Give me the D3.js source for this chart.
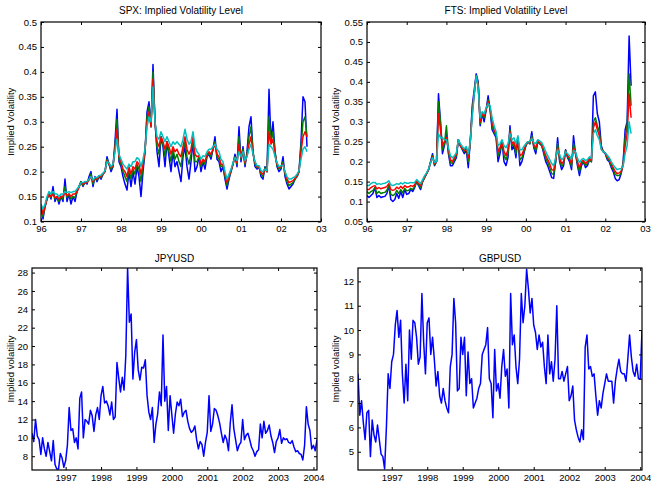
<!DOCTYPE html>
<html lang="en">
<head>
<meta charset="UTF-8">
<title>Implied volatility levels</title>
<script src="https://d3js.org/d3.v7.min.js"></script>
<style>
    body {
        margin: 0;
        background: #fff;
    }
    #chart {
        display: block;
        font-family: Arial, "Liberation Sans", Helvetica, sans-serif;
    }
    .title { font-size: 10px; fill: #000; }
    .ylabel { font-size: 9.5px; fill: #000; }
</style>
</head>
<body>
<svg id="chart" width="651" height="482"></svg>
<script>
    // sampling: one value every 0.05 year, starting at the given decimal year
    const step = 0.05;

    // ---- SPX implied volatility (4 maturities), from 1996.00 ----
    const spxStart = 1996.0;
    const spxBlue = [
        0.13,0.105,0.13,0.145,0.155,0.145,0.17,0.14,0.15,0.135,0.15,0.14,0.185,0.14,0.155,0.135,0.15,0.14,0.16,0.17,
        0.18,0.17,0.18,0.175,0.19,0.2,0.17,0.19,0.18,0.19,0.185,0.195,0.2,0.23,0.215,0.2,0.21,0.26,0.325,0.22,
        0.21,0.19,0.175,0.163,0.2,0.17,0.2,0.175,0.21,0.19,0.15,0.2,0.24,0.32,0.34,0.29,0.415,0.3,0.24,0.21,
        0.27,0.25,0.21,0.26,0.23,0.2,0.24,0.21,0.22,0.2,0.18,0.23,0.25,0.21,0.185,0.22,0.26,0.2,0.21,0.23,
        0.2,0.22,0.205,0.23,0.235,0.225,0.245,0.27,0.225,0.22,0.2,0.21,0.185,0.165,0.185,0.2,0.215,0.235,0.21,0.29,
        0.22,0.25,0.21,0.24,0.29,0.31,0.24,0.21,0.205,0.21,0.19,0.185,0.21,0.2,0.365,0.26,0.3,0.24,0.21,0.2,
        0.205,0.23,0.19,0.175,0.165,0.17,0.175,0.185,0.19,0.2,0.26,0.35,0.34,0.25
    ];
    const spxGreen = [
        0.13,0.11,0.13,0.145,0.155,0.148,0.16,0.145,0.15,0.14,0.15,0.145,0.17,0.148,0.155,0.145,0.15,0.148,0.16,0.17,
        0.18,0.172,0.178,0.178,0.185,0.195,0.175,0.188,0.183,0.19,0.188,0.195,0.2,0.225,0.215,0.205,0.21,0.25,0.305,0.225,
        0.215,0.2,0.19,0.18,0.205,0.185,0.205,0.195,0.215,0.205,0.18,0.21,0.24,0.31,0.33,0.29,0.4,0.3,0.25,0.235,
        0.27,0.255,0.23,0.26,0.24,0.22,0.245,0.225,0.235,0.22,0.21,0.24,0.26,0.23,0.215,0.235,0.265,0.22,0.22,0.23,
        0.21,0.222,0.215,0.232,0.237,0.23,0.245,0.26,0.23,0.225,0.21,0.212,0.19,0.172,0.188,0.2,0.215,0.23,0.215,0.27,
        0.225,0.245,0.215,0.235,0.27,0.29,0.24,0.215,0.208,0.21,0.195,0.19,0.208,0.2,0.31,0.26,0.28,0.24,0.212,0.205,
        0.208,0.22,0.195,0.18,0.172,0.175,0.178,0.185,0.19,0.2,0.25,0.3,0.31,0.27
    ];
    const spxRed = [
        0.13,0.115,0.13,0.145,0.155,0.15,0.155,0.148,0.15,0.145,0.15,0.15,0.16,0.152,0.155,0.15,0.155,0.155,0.16,0.168,
        0.178,0.175,0.178,0.178,0.183,0.19,0.18,0.187,0.185,0.19,0.19,0.195,0.2,0.222,0.215,0.208,0.212,0.245,0.285,0.23,
        0.22,0.205,0.2,0.19,0.21,0.195,0.21,0.205,0.22,0.215,0.195,0.215,0.24,0.3,0.32,0.29,0.385,0.3,0.26,0.25,
        0.27,0.26,0.245,0.26,0.25,0.235,0.25,0.24,0.245,0.235,0.23,0.25,0.27,0.245,0.235,0.245,0.27,0.235,0.23,0.232,
        0.215,0.225,0.22,0.235,0.24,0.235,0.245,0.255,0.235,0.23,0.215,0.215,0.195,0.178,0.19,0.202,0.215,0.228,0.218,0.255,
        0.228,0.24,0.218,0.232,0.255,0.27,0.235,0.218,0.21,0.21,0.198,0.195,0.205,0.2,0.28,0.255,0.265,0.235,0.215,0.208,
        0.21,0.215,0.198,0.185,0.178,0.18,0.182,0.187,0.192,0.2,0.24,0.27,0.28,0.27
    ];
    const spxCyan = [
        0.135,0.125,0.135,0.15,0.16,0.155,0.16,0.155,0.155,0.15,0.155,0.155,0.16,0.158,0.16,0.158,0.16,0.16,0.165,0.17,
        0.178,0.178,0.18,0.18,0.185,0.19,0.183,0.188,0.188,0.192,0.193,0.197,0.202,0.22,0.218,0.21,0.215,0.24,0.265,0.235,
        0.225,0.215,0.21,0.205,0.215,0.21,0.22,0.22,0.228,0.225,0.21,0.225,0.245,0.29,0.31,0.3,0.37,0.3,0.27,0.265,
        0.28,0.27,0.26,0.27,0.26,0.25,0.26,0.255,0.26,0.255,0.25,0.265,0.285,0.265,0.255,0.26,0.28,0.25,0.24,0.235,
        0.225,0.232,0.23,0.24,0.245,0.245,0.25,0.255,0.245,0.24,0.225,0.22,0.2,0.185,0.195,0.205,0.218,0.228,0.222,0.24,
        0.23,0.24,0.222,0.23,0.245,0.255,0.235,0.22,0.212,0.212,0.202,0.2,0.205,0.202,0.255,0.25,0.245,0.23,0.218,0.21,
        0.212,0.213,0.2,0.19,0.185,0.185,0.188,0.19,0.195,0.202,0.225,0.245,0.25,0.24
    ];

    // ---- FTS implied volatility (4 maturities), from 1996.00 ----
    const ftsStart = 1996.0;
    const ftsBlue = [
        0.115,0.11,0.115,0.12,0.135,0.11,0.115,0.11,0.112,0.113,0.12,0.14,0.105,0.1,0.105,0.12,0.108,0.125,0.11,0.13,
        0.118,0.12,0.13,0.125,0.135,0.15,0.14,0.13,0.15,0.16,0.17,0.18,0.2,0.22,0.19,0.2,0.37,0.3,0.22,0.24,
        0.27,0.22,0.19,0.19,0.2,0.21,0.255,0.24,0.23,0.22,0.23,0.185,0.25,0.34,0.38,0.42,0.4,0.29,0.32,0.3,
        0.33,0.365,0.33,0.28,0.27,0.26,0.2,0.22,0.25,0.2,0.19,0.21,0.29,0.23,0.24,0.21,0.26,0.19,0.2,0.22,
        0.24,0.25,0.245,0.275,0.235,0.22,0.25,0.245,0.24,0.22,0.2,0.19,0.175,0.16,0.158,0.2,0.26,0.2,0.18,0.19,
        0.23,0.21,0.2,0.18,0.265,0.22,0.19,0.165,0.19,0.2,0.185,0.19,0.205,0.2,0.365,0.375,0.32,0.3,0.24,0.225,
        0.22,0.205,0.2,0.185,0.175,0.158,0.152,0.155,0.17,0.2,0.28,0.3,0.515,0.39
    ];
    const ftsGreen = [
        0.125,0.12,0.125,0.128,0.135,0.12,0.125,0.12,0.122,0.123,0.128,0.14,0.118,0.115,0.118,0.128,0.12,0.13,0.122,0.133,
        0.127,0.128,0.133,0.13,0.138,0.15,0.142,0.135,0.15,0.16,0.17,0.18,0.198,0.215,0.192,0.2,0.35,0.3,0.23,0.245,
        0.29,0.225,0.198,0.195,0.205,0.215,0.255,0.24,0.232,0.225,0.232,0.2,0.25,0.33,0.37,0.415,0.395,0.295,0.32,0.31,
        0.33,0.355,0.33,0.29,0.275,0.265,0.215,0.23,0.25,0.215,0.205,0.22,0.28,0.24,0.245,0.22,0.26,0.205,0.21,0.225,
        0.24,0.25,0.245,0.265,0.238,0.228,0.25,0.245,0.24,0.225,0.208,0.198,0.185,0.17,0.168,0.2,0.245,0.205,0.188,0.195,
        0.228,0.212,0.205,0.188,0.245,0.22,0.195,0.175,0.195,0.2,0.19,0.195,0.205,0.2,0.3,0.31,0.29,0.275,0.235,0.225,
        0.222,0.208,0.203,0.19,0.18,0.168,0.165,0.165,0.172,0.195,0.26,0.29,0.42,0.34
    ];
    const ftsRed = [
        0.13,0.13,0.135,0.138,0.14,0.132,0.135,0.132,0.134,0.135,0.138,0.145,0.13,0.128,0.13,0.136,0.132,0.138,0.133,0.14,
        0.136,0.137,0.14,0.138,0.142,0.152,0.145,0.14,0.152,0.162,0.17,0.18,0.197,0.212,0.195,0.2,0.32,0.28,0.24,0.25,
        0.26,0.23,0.205,0.2,0.21,0.218,0.255,0.24,0.235,0.228,0.235,0.21,0.25,0.32,0.37,0.415,0.39,0.3,0.32,0.315,
        0.33,0.35,0.335,0.3,0.28,0.27,0.225,0.235,0.252,0.225,0.215,0.23,0.275,0.245,0.25,0.23,0.26,0.215,0.218,0.23,
        0.242,0.25,0.248,0.26,0.242,0.235,0.252,0.248,0.243,0.23,0.215,0.205,0.195,0.18,0.178,0.205,0.235,0.21,0.195,0.2,
        0.225,0.215,0.21,0.195,0.235,0.222,0.2,0.185,0.2,0.203,0.195,0.2,0.208,0.203,0.285,0.3,0.28,0.265,0.232,0.225,
        0.222,0.212,0.206,0.195,0.185,0.175,0.17,0.172,0.176,0.19,0.24,0.27,0.37,0.31
    ];
    const ftsCyan = [
        0.14,0.14,0.145,0.148,0.148,0.143,0.145,0.143,0.145,0.146,0.148,0.152,0.142,0.14,0.142,0.145,0.143,0.147,0.144,0.148,
        0.146,0.146,0.148,0.147,0.148,0.155,0.15,0.145,0.155,0.165,0.172,0.182,0.197,0.21,0.198,0.2,0.27,0.26,0.26,0.255,
        0.255,0.235,0.215,0.21,0.215,0.222,0.255,0.245,0.238,0.232,0.238,0.22,0.25,0.31,0.37,0.415,0.385,0.31,0.325,0.32,
        0.335,0.345,0.34,0.31,0.29,0.275,0.24,0.245,0.255,0.24,0.235,0.245,0.27,0.255,0.26,0.245,0.265,0.23,0.23,0.238,
        0.245,0.25,0.25,0.258,0.248,0.245,0.255,0.252,0.248,0.238,0.225,0.215,0.205,0.195,0.19,0.21,0.23,0.218,0.205,0.21,
        0.225,0.22,0.215,0.205,0.228,0.225,0.208,0.198,0.205,0.208,0.203,0.205,0.212,0.208,0.27,0.28,0.265,0.255,0.23,0.225,
        0.222,0.216,0.21,0.2,0.192,0.185,0.18,0.182,0.182,0.19,0.22,0.24,0.3,0.27
    ];

    // ---- JPYUSD implied volatility, from 1996.05 ----
    const jpyStart = 1996.05;
    const jpyVol = [
        10.5,9.6,12,10.2,9.8,8.2,10,8.8,8,9.5,8.5,7.5,9.7,7.1,6.6,6.6,8.3,7.8,6.8,
        7.5,9.2,13.3,10.8,11,9.5,10,8.8,14.3,15,10,12,11.8,11.5,13,12.4,10.7,12.5,13.3,12,
        14.6,15.6,13.8,14,13.5,12.5,13.9,12,12.3,18.2,16.5,15,16.6,15.2,19,28.5,22.6,23.5,16.4,19.3,
        20.7,17.4,16.3,17.7,17.6,18.5,14.6,12.8,12,13.3,9.5,11.5,12.6,15,13.5,21.2,14,15.6,10.8,14.6,
        12.5,10.5,12.6,13.9,13.5,14.2,12.3,12.8,13,11.8,11,10.6,10.8,11.3,9.8,8.8,9.6,9.3,8,9.5,
        10.6,14.6,10.7,11.5,13.2,13,12.4,11.6,10.5,9.5,10.3,9.8,8.6,11.6,13.6,11,9.8,8.6,9.2,9.5,
        12,9.8,10.3,10.5,9.8,9,8.6,8,8.5,8.7,11.5,10,11.8,10.5,10.8,11.4,10.2,9.5,8.4,9.6,
        10,10.9,9.4,10,9.8,9.9,9.5,9.4,9.7,9,8.5,8.6,8.3,8.2,7.6,9.2,13.4,11.5,10.8,8.8,
        9.2,8.6,9.8
    ];

    // ---- GBPUSD implied volatility, from 1996.05 ----
    const gbpStart = 1996.05;
    const gbpVol = [
        8.2,6.5,7.1,6.2,5.5,6.6,6.7,4.8,6.3,5.7,5.4,6.1,5.5,4.9,4.8,4.3,6,8.2,7.6,
        8.7,9,10.2,10.8,9.7,10.4,8.2,7,8.6,7.1,10,8.8,10.4,10.3,9.7,8.6,8.9,11.5,9.5,8.2,
        10.3,10.5,9,9.7,8.8,7.7,8.3,7.3,7,7.6,7.1,6.8,6.6,8.5,9,11.3,10.3,7.5,7.6,9.7,
        9,9.7,7.3,9.1,7.8,8,6.8,7,7.2,7.6,7.8,9,9.2,9.4,10.1,8,7.8,6.4,9.2,7.5,
        7.8,7.2,8.5,9.2,8.1,8.4,6.8,11.5,9.4,9.8,8.5,7.8,8.8,11.5,10.3,11,12.5,11.7,10.7,11.3,
        10.2,9.9,9.2,9.8,9.3,9.5,8.5,7.8,9.8,8.2,8.7,7.9,8.8,11,8,8,8.3,7.9,8.2,8.5,
        7.1,7.3,7.7,6.3,5.9,5.6,5.4,5.9,5.5,9.3,9.8,8.4,8.5,8.1,8.2,7.3,6.5,7.1,6.8,7.4,
        7.8,8.2,7.9,7.9,7.9,7,7.9,8.4,8.8,8.3,8.2,8.2,7.9,8.8,9.8,8.9,8.3,8.1,8.6,8,
        8,10
    ];

    // ---- ticks ----
    const shortYearTicks = [1996, 1997, 1998, 1999, 2000, 2001, 2002, 2003];
    const shortYearLabels = ['96', '97', '98', '99', '00', '01', '02', '03'];
    const longYearTicks = [1997, 1998, 1999, 2000, 2001, 2002, 2003, 2004];
    const longYearLabels = ['1997', '1998', '1999', '2000', '2001', '2002', '2003', '2004'];
    const spxYTicks = [0.1, 0.15, 0.2, 0.25, 0.3, 0.35, 0.4, 0.45, 0.5];
    const spxYLabels = ['0.1', '0.15', '0.2', '0.25', '0.3', '0.35', '0.4', '0.45', '0.5'];
    const ftsYTicks = [0.05, 0.1, 0.15, 0.2, 0.25, 0.3, 0.35, 0.4, 0.45, 0.5, 0.55];
    const ftsYLabels = ['0.05', '0.1', '0.15', '0.2', '0.25', '0.3', '0.35', '0.4', '0.45', '0.5', '0.55'];
    const jpyYTicks = [8, 10, 12, 14, 16, 18, 20, 22, 24, 26, 28];
    const gbpYTicks = [5, 6, 7, 8, 9, 10, 11, 12];

    // MATLAB default line colours
    const colors = ['#0000ff', '#008000', '#ff0000', '#00bfbf'];

    const svg = d3.select('#chart');

    const panels = [
        {
            id: 'spx', left: 41, right: 321, top: 22, bottom: 221.5, titleY: 14, ylabelX: 13.5,
            title: 'SPX: Implied Volatility Level', ylabel: 'Implied Volatility',
            xDomain: [1996, 2003], yDomain: [0.1, 0.5],
            xTicks: shortYearTicks, xLabels: shortYearLabels, yTicks: spxYTicks, yLabels: spxYLabels,
            start: spxStart, series: [spxBlue, spxGreen, spxRed, spxCyan]
        },
        {
            id: 'fts', left: 367, right: 645, top: 22, bottom: 221.5, titleY: 14, ylabelX: 338.7,
            title: 'FTS: Implied Volatility Level', ylabel: 'Implied Volatility',
            xDomain: [1996, 2003], yDomain: [0.05, 0.55],
            xTicks: shortYearTicks, xLabels: shortYearLabels, yTicks: ftsYTicks, yLabels: ftsYLabels,
            start: ftsStart, series: [ftsBlue, ftsGreen, ftsRed, ftsCyan]
        },
        {
            id: 'jpy', left: 32, right: 317, top: 268, bottom: 470, titleY: 262.3, ylabelX: 13.7,
            title: 'JPYUSD', ylabel: 'Implied volatility',
            xDomain: [1996.05, 2004.1], yDomain: [6.5, 28.5],
            xTicks: longYearTicks, xLabels: longYearLabels, yTicks: jpyYTicks, yLabels: jpyYTicks.map(String),
            start: jpyStart, series: [jpyVol]
        },
        {
            id: 'gbp', left: 358, right: 642, top: 268, bottom: 470, titleY: 262.3, ylabelX: 338.7,
            title: 'GBPUSD', ylabel: 'Implied volatility',
            xDomain: [1996.05, 2004.05], yDomain: [4.25, 12.55],
            xTicks: longYearTicks, xLabels: longYearLabels, yTicks: gbpYTicks, yLabels: gbpYTicks.map(String),
            start: gbpStart, series: [gbpVol]
        }
    ];

    panels.forEach(drawPanel);

    function drawPanel(p) {
        const x = d3.scaleLinear().domain(p.xDomain).range([p.left, p.right]);
        const y = d3.scaleLinear().domain(p.yDomain).range([p.bottom, p.top]);
        const g = svg.append('g');

        g.append('clipPath')
            .attr('id', 'clip-' + p.id)
            .append('rect')
            .attr('x', p.left)
            .attr('y', p.top)
            .attr('width', p.right - p.left)
            .attr('height', p.bottom - p.top);

        const line = d3.line()
            .x(d => x(d[0]))
            .y(d => y(d[1]));

        p.series.forEach((values, k) => {
            const pts = values.map((v, i) => [p.start + i * step, v]);
            g.append('path')
                .datum(pts)
                .attr('clip-path', `url(#clip-${p.id})`)
                .attr('fill', 'none')
                .attr('stroke', colors[k])
                .attr('stroke-width', 1.5)
                .attr('stroke-linejoin', 'round')
                .attr('d', line);
        });

        // inward ticks on all four sides, labels on bottom and left only
        const styleAxis = sel => {
            sel.select('.domain').remove();
            sel.selectAll('line').attr('stroke', '#000');
            sel.selectAll('text').attr('fill', '#000').style('font-size', '9.5px')
                .style('font-family', 'Arial, "Liberation Sans", sans-serif');
        };

        g.append('g')
            .attr('transform', `translate(0,${p.bottom})`)
            .call(d3.axisBottom(x).tickValues(p.xTicks).tickFormat((d, i) => p.xLabels[i])
                .tickSizeInner(-3).tickSizeOuter(0).tickPadding(4))
            .call(styleAxis);
        g.append('g')
            .attr('transform', `translate(0,${p.top})`)
            .call(d3.axisTop(x).tickValues(p.xTicks).tickFormat('')
                .tickSizeInner(-3).tickSizeOuter(0))
            .call(styleAxis);
        g.append('g')
            .attr('transform', `translate(${p.left},0)`)
            .call(d3.axisLeft(y).tickValues(p.yTicks).tickFormat((d, i) => p.yLabels[i])
                .tickSizeInner(-3).tickSizeOuter(0).tickPadding(4))
            .call(styleAxis);
        g.append('g')
            .attr('transform', `translate(${p.right},0)`)
            .call(d3.axisRight(y).tickValues(p.yTicks).tickFormat('')
                .tickSizeInner(-3).tickSizeOuter(0))
            .call(styleAxis);

        g.append('rect')
            .attr('x', p.left)
            .attr('y', p.top)
            .attr('width', p.right - p.left)
            .attr('height', p.bottom - p.top)
            .attr('fill', 'none')
            .attr('stroke', '#000')
            .attr('stroke-width', 1.2);

        g.append('text')
            .attr('class', 'title')
            .attr('x', (p.left + p.right) / 2)
            .attr('y', p.titleY)
            .attr('text-anchor', 'middle')
            .text(p.title);

        g.append('text')
            .attr('class', 'ylabel')
            .attr('transform', `translate(${p.ylabelX},${(p.top + p.bottom) / 2}) rotate(-90)`)
            .attr('text-anchor', 'middle')
            .text(p.ylabel);
    }
</script>
</body>
</html>
